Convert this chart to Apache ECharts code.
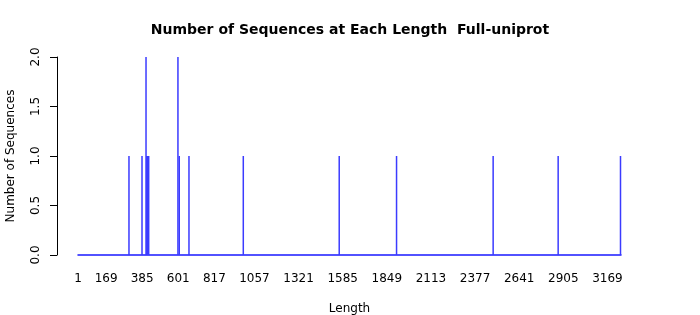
<!DOCTYPE html>
<html>
<head>
<meta charset="utf-8">
<script src="https://cdn.jsdelivr.net/npm/echarts@6/dist/echarts.min.js"></script>
<style>html,body{margin:0;padding:0;background:#fff}#c{width:700px;height:315px}</style>
</head>
<body>
<div id="c"></div>
<script>
const lengths = [306, 384, 408, 413, 418, 424, 599, 607, 665, 990, 1564, 1907, 2485, 2874, 3247];
const counts  = [1,   1,   2,   1,   1,   1,   2,   1,   1,   1,   1,    1,    1,    1,    1];
const xTickLabels = [1, 169, 385, 601, 817, 1057, 1321, 1585, 1849, 2113, 2377, 2641, 2905, 3169];

const font = 'DejaVu Sans';
const chart = echarts.init(document.getElementById('c'), null, {renderer: 'canvas'});
chart.setOption({
  animation: false,
  title: {
    text: 'Number of Sequences at Each Length  Full-uniprot',
    left: 'center', top: 18,
    textStyle: {fontFamily: font, fontWeight: 'bold', fontSize: 14, color: '#000'}
  },
  grid: {left: 78, right: 79, top: 57, bottom: 60, outerBoundsMode: 'none', containLabel: false},
  xAxis: {
    type: 'value', min: 1, max: 3250,
    name: 'Length', nameLocation: 'middle', nameGap: 48,
    nameTextStyle: {fontFamily: font, fontSize: 12, color: '#000'},
    axisLine: {show: true, lineStyle: {color: '#1a1aff', width: 1.5}},
    axisTick: {show: false},
    splitLine: {show: false},
    axisLabel: {customValues: xTickLabels, fontFamily: font, fontSize: 12, color: '#000', margin: 18,
      formatter: v => String(v)}
  },
  yAxis: {
    type: 'value', min: 0, max: 2, interval: 0.5, offset: 21,
    name: 'Number of Sequences', nameLocation: 'middle', nameGap: 40,
    nameTextStyle: {fontFamily: font, fontSize: 12, color: '#000'},
    axisLine: {show: true, lineStyle: {color: '#000', width: 1}},
    axisTick: {show: true, length: 7, lineStyle: {color: '#000'}},
    splitLine: {show: false},
    axisLabel: {rotate: 90, fontFamily: font, fontSize: 12, color: '#000', margin: 15,
      formatter: v => v.toFixed(1)}
  },
  series: [{
    type: 'bar',
    barWidth: 1.5,
    itemStyle: {color: '#3b3bff'},
    data: lengths.map((l, i) => [l, counts[i]])
  }]
});
</script>
</body>
</html>
